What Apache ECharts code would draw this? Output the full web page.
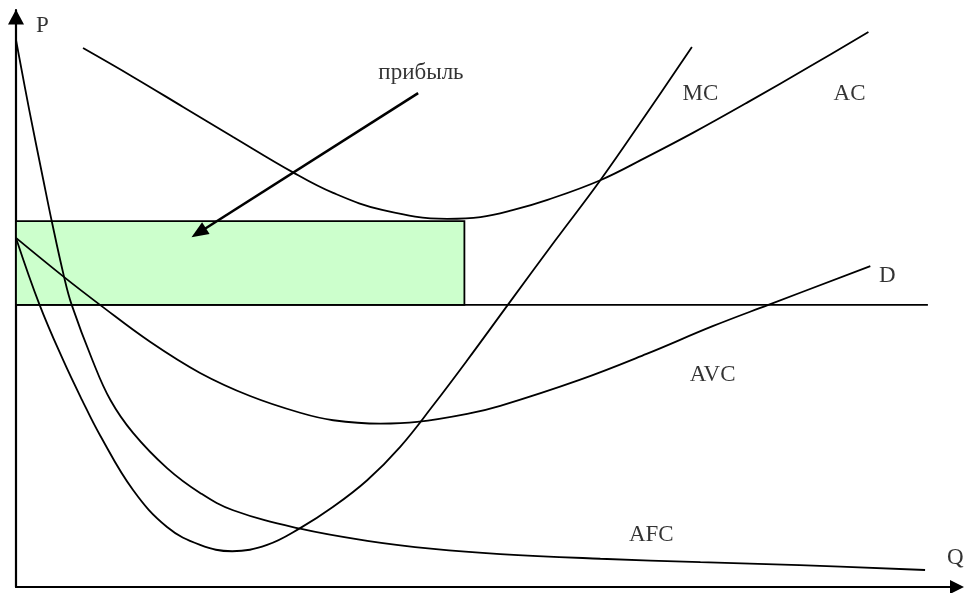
<!DOCTYPE html>
<html>
<head>
<meta charset="utf-8">
<script src="https://cdn.jsdelivr.net/npm/echarts@6/dist/echarts.min.js"></script>
<style>
  html, body { margin: 0; padding: 0; background: #fff; }
  #main { width: 965px; height: 593px; }
</style>
</head>
<body>
<div id="main"></div>
<script>
// кривые издержек: точки [Q, P]
var acPoints = [
    [7.1, 93.4], [12.4, 88.4], [17.7, 83.2], [23.0, 78.0], [29.3, 71.9],
    [33.6, 68.3], [38.9, 65.3], [45.7, 63.8], [49.2, 64.1], [52.6, 65.3],
    [56.3, 67.1], [61.9, 70.5], [66.8, 74.5], [71.7, 78.7], [77.4, 83.9],
    [84.4, 90.5], [90.3, 96.2]
];
var mcPoints = [
    [0, 60.5], [2.5, 48.9], [5.0, 39.3], [7.0, 32.4], [8.9, 26.3], [12.4, 16.8],
    [16.0, 10.4], [19.5, 7.3], [22.9, 6.2], [26.6, 7.3], [30.1, 10.2], [33.6, 13.9],
    [37.2, 18.5], [40.7, 24.3], [44.2, 31.5], [47.8, 39.3], [52.1, 48.9], [57.1, 60.0],
    [61.9, 70.5], [66.7, 81.8], [71.6, 93.6]
];
var avcPoints = [
    [0, 60.5], [5.1, 53.7], [8.9, 48.9], [14.2, 42.5], [19.5, 37.1], [24.8, 33.1],
    [30.1, 30.2], [33.6, 28.9], [38.6, 28.3], [42.5, 28.6], [47.8, 30.0], [51.3, 31.4],
    [59.7, 35.9], [66.8, 40.4], [73.8, 45.2], [79.7, 48.9], [90.5, 55.6]
];
var afcPoints = [
    [0, 94.8], [1.4, 82.7], [2.9, 70.5], [3.8, 63.3], [5.1, 53.7], [5.9, 48.9],
    [8.1, 39.3], [10.0, 32.4], [12.4, 26.7], [16.0, 20.6], [19.5, 16.3], [23.0, 13.3],
    [30.1, 10.1], [37.2, 8.0], [44.2, 6.6], [51.3, 5.7], [61.9, 4.9], [72.5, 4.3],
    [83.0, 3.8], [96.3, 2.95]
];
// цена (горизонталь)
var priceLine = [[0, 48.9], [96.6, 48.9]];
// прямоугольник прибыли: [Q0, P0], [Q1, P1]
var profitBox = [[0, 48.9], [47.5, 63.4]];
// стрелка от подписи к прямоугольнику
var arrowLine = [[42.6, 85.6], [19.35, 61.4]];
// подписи
var labels = [
    [2.8, 97.2, 'P'], [99.5, 5.0, 'Q'], [42.9, 89.1, 'прибыль'],
    [72.5, 85.4, 'MC'], [88.3, 85.4, 'AC'], [92.3, 53.9, 'D'],
    [73.8, 36.7, 'AVC'], [67.3, 9.0, 'AFC']
];

var myChart = echarts.init(document.getElementById('main'));

function curve(name, pts) {
    return {
        name: name,
        type: 'line',
        data: pts,
        smooth: 0.4,
        showSymbol: false,
        silent: true,
        clip: false,
        lineStyle: { color: '#000', width: 1.8 }
    };
}

var option = {
    animation: false,
    backgroundColor: '#fff',
    grid: { left: 16, right: 5, top: 10, bottom: 6 },
    xAxis: {
        type: 'value', min: 0, max: 100,
        axisLine: {
            show: true,
            lineStyle: { color: '#000', width: 2.2 },
            symbol: ['none', 'triangle'],
            symbolSize: [14, 14],
            symbolOffset: [0, -3]
        },
        axisTick: { show: false },
        axisLabel: { show: false },
        splitLine: { show: false }
    },
    yAxis: {
        type: 'value', min: 0, max: 100,
        axisLine: {
            show: true,
            lineStyle: { color: '#000', width: 2.2 },
            symbol: ['none', 'triangle'],
            symbolSize: [16, 15],
            symbolOffset: [0, -7]
        },
        axisTick: { show: false },
        axisLabel: { show: false },
        splitLine: { show: false }
    },
    series: [
        {
            name: 'D',
            type: 'line',
            data: priceLine,
            showSymbol: false,
            silent: true,
            lineStyle: { color: '#000', width: 1.8 },
            z: 3,
            markArea: {
                silent: true,
                itemStyle: { color: '#ccffcc', borderColor: '#000', borderWidth: 1.8 },
                data: [[{ coord: profitBox[0] }, { coord: profitBox[1] }]]
            },
            markLine: {
                silent: true,
                symbol: ['none', 'triangle'],
                symbolSize: [14, 17],
                label: { show: false },
                lineStyle: { color: '#000', width: 2.6, type: 'solid' },
                data: [[{ coord: arrowLine[0] }, { coord: arrowLine[1] }]]
            }
        },
        curve('AC', acPoints),
        curve('MC', mcPoints),
        curve('AVC', avcPoints),
        curve('AFC', afcPoints),
        {
            type: 'scatter',
            data: labels,
            symbolSize: 1,
            silent: true,
            itemStyle: { color: 'transparent' },
            label: {
                show: true,
                position: 'inside',
                formatter: function (p) { return p.value[2]; },
                fontFamily: 'Liberation Serif',
                fontSize: 23,
                color: '#000'
            }
        }
    ]
};
myChart.setOption(option);
</script>
</body>
</html>
